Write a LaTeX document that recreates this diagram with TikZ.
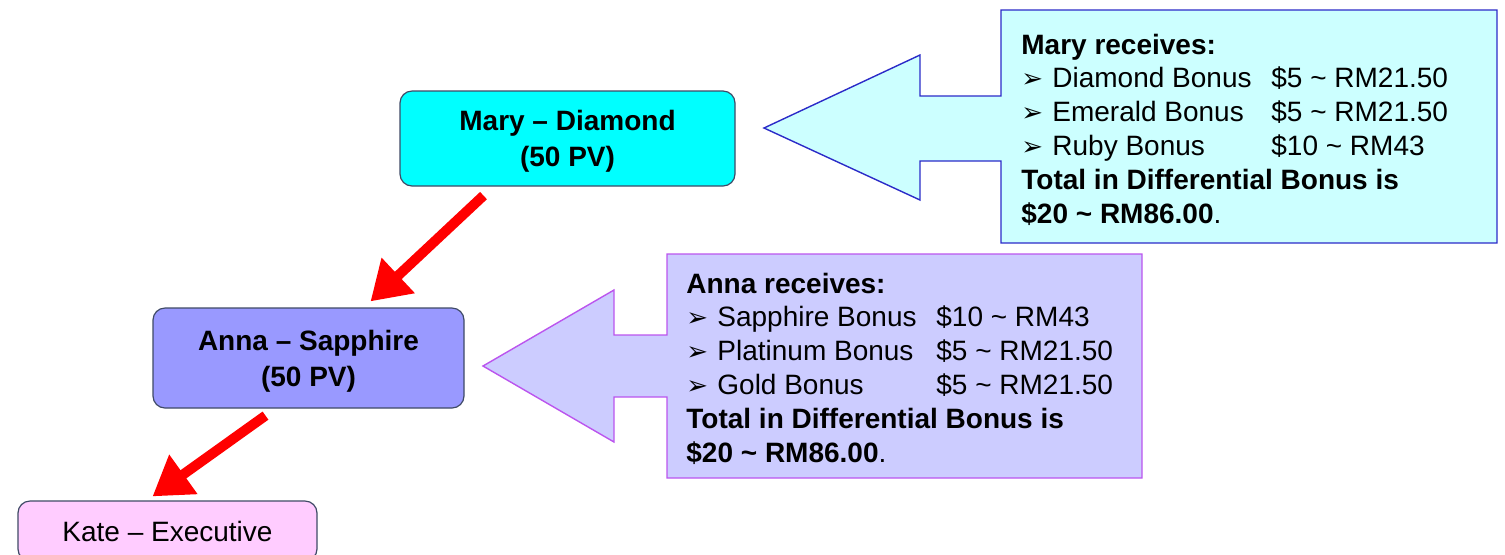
\documentclass[tikz,border=0pt]{standalone}
\usepackage{fontspec}
\setmainfont{Liberation Sans}
\newfontfamily\symfont{DejaVu Sans}
\usetikzlibrary{arrows.meta,calc}

\definecolor{boxline}{HTML}{3F4A66}
\definecolor{diamondfill}{HTML}{00FFFF}
\definecolor{sapphirefill}{HTML}{9999FF}
\definecolor{execfill}{HTML}{FFCCFF}
\definecolor{maryfill}{HTML}{CCFFFF}
\definecolor{maryline}{HTML}{2B2BC8}
\definecolor{annafill}{HTML}{CCCCFF}
\definecolor{annaline}{HTML}{BB55EE}

\newcommand{\bul}{\makebox[15.5pt][l]{\symfont\fontsize{13}{13}\selectfont ➢}}
\newcommand{\bonus}[2]{\bul\makebox[109.5pt][l]{#1}#2}

\begin{document}
\begin{tikzpicture}[x=0.5pt,y=-0.5pt,
	rank/.style={draw=boxline,line width=0.6pt,rounded corners=6pt,inner sep=0pt,text depth=0pt,align=center,font=\fontsize{14}{18}\selectfont\bfseries},
	redarrow/.style={draw=red,line width=5pt,-{Triangle[length=19pt,width=23pt]}},
	info/.style={anchor=base west,align=left,inner sep=0pt,font=\fontsize{14}{16.9}\selectfont}]
	\useasboundingbox (0,0) rectangle (1505,554);
	\clip (0,0) rectangle (1505,554);
	% ranks
	\node[rank,fill=diamondfill,minimum width=167.5pt,minimum height=47.5pt] (mary) at (567.5,138.5) {Mary – Diamond\\(50 PV)};
	\node[rank,fill=sapphirefill,minimum width=155.5pt,minimum height=50pt] (anna) at (308.5,358) {Anna – Sapphire\\(50 PV)};
	\node[rank,fill=execfill,minimum width=149.5pt,minimum height=30pt,font=\fontsize{14}{18}\selectfont] (kate) at (167.5,531) {Kate – Executive};
	\draw[redarrow] ($(mary.south)+(-84,9)$) -- ($(anna.north)+(62,-6)$);
	\draw[redarrow] ($(anna.south)+(-43,7)$) -- ($(kate.north)+(-15,-4)$);
	% callouts
	\draw[fill=maryfill,draw=maryline,line width=0.7pt] (1001,10) -- (1497,10) -- (1497,243) -- (1001,243) -- (1001,161) -- (920,161) -- (920,200) -- (764,128) -- (920,55) -- (920,96) -- (1001,96) -- cycle;
	\draw[fill=annafill,draw=annaline,line width=0.7pt] (667,254) -- (1142,254) -- (1142,478) -- (667,478) -- (667,397) -- (614,397) -- (614,442) -- (483,366) -- (614,290) -- (614,335) -- (667,335) -- cycle;
	\node[info] (marytext) at (1021,223) {\textbf{Mary receives:}\\
		\bonus{Diamond Bonus}{\$5 \textasciitilde{} RM21.50}\\
		\bonus{Emerald Bonus}{\$5 \textasciitilde{} RM21.50}\\
		\bonus{Ruby Bonus}{\$10 \textasciitilde{} RM43}\\
		\textbf{Total in Differential Bonus is}\\
		\textbf{\$20 \textasciitilde{} RM86.00}.};
	\node[info] (annatext) at (686,462) {\textbf{Anna receives:}\\
		\bonus{Sapphire Bonus}{\$10 \textasciitilde{} RM43}\\
		\bonus{Platinum Bonus}{\$5 \textasciitilde{} RM21.50}\\
		\bonus{Gold Bonus}{\$5 \textasciitilde{} RM21.50}\\
		\textbf{Total in Differential Bonus is}\\
		\textbf{\$20 \textasciitilde{} RM86.00}.};
\end{tikzpicture}
\end{document}
